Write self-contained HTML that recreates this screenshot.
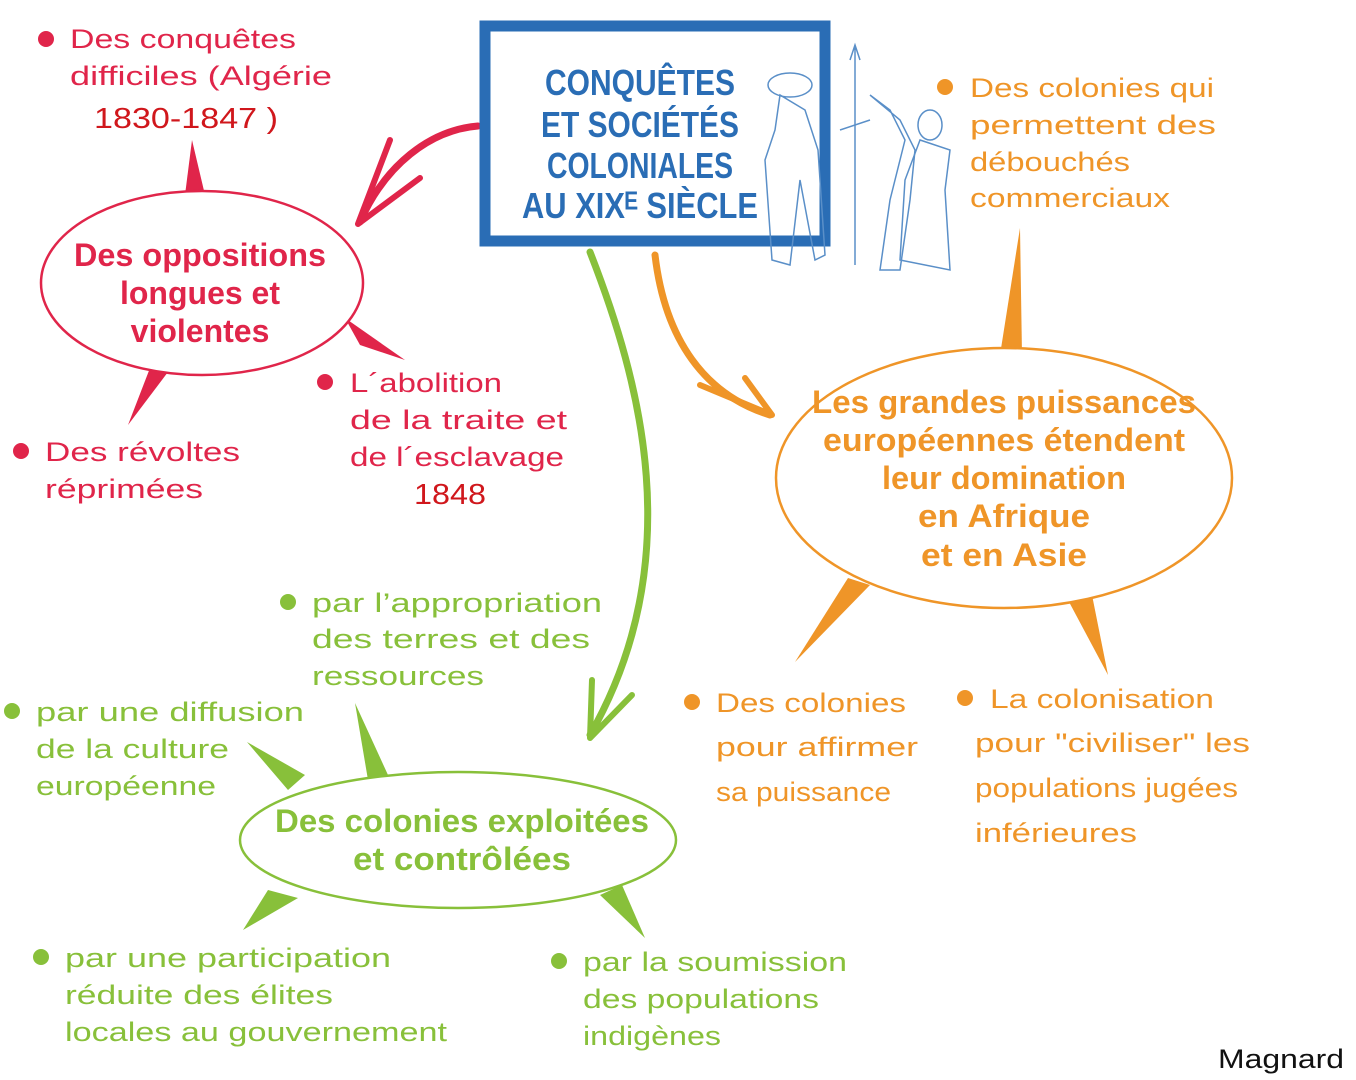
<!DOCTYPE html>
<html><head><meta charset="utf-8"><style>
html,body{margin:0;padding:0;background:#fff;}
svg{display:block;}
text{font-family:"Liberation Sans",sans-serif;}
.r{fill:#e0254a;font-size:27px;}
.o{fill:#ef9528;font-size:27px;}
.g{fill:#88c03a;font-size:27px;}
.rb{fill:#e0254a;font-size:32px;font-weight:bold;}
.ob{fill:#ef9528;font-size:32px;font-weight:bold;}
.gb{fill:#88c03a;font-size:32px;font-weight:bold;}
.t{fill:#2a6db5;font-size:36px;font-weight:bold;}
</style></head><body>
<svg width="1356" height="1080" viewBox="0 0 1356 1080">
<!-- connectors -->
<path d="M478,126 C430,130 385,165 360,222" fill="none" stroke="#e0254a" stroke-width="7" stroke-linecap="round"/>
<path d="M358,224 L390,140 M358,224 L420,178" fill="none" stroke="#e0254a" stroke-width="6" stroke-linecap="round"/>
<path d="M590,252 C640,380 690,560 590,735" fill="none" stroke="#88c03a" stroke-width="7" stroke-linecap="round"/>
<path d="M590,738 L592,680 M590,738 L632,695" fill="none" stroke="#88c03a" stroke-width="6" stroke-linecap="round"/>
<path d="M655,255 C665,340 705,395 770,415" fill="none" stroke="#ef9528" stroke-width="7" stroke-linecap="round"/>
<path d="M772,415 L700,385 M772,415 L745,378" fill="none" stroke="#ef9528" stroke-width="6" stroke-linecap="round"/>

<!-- title box -->
<rect x="485" y="26" width="340" height="215" fill="#fff" stroke="#2a6db5" stroke-width="11"/>
<text class="t" x="640" y="95" text-anchor="middle" textLength="190" lengthAdjust="spacingAndGlyphs">CONQUÊTES</text>
<text class="t" x="640" y="137" text-anchor="middle" textLength="198" lengthAdjust="spacingAndGlyphs">ET SOCIÉTÉS</text>
<text class="t" x="640" y="178" text-anchor="middle" textLength="186" lengthAdjust="spacingAndGlyphs">COLONIALES</text>
<text class="t" x="640" y="218" text-anchor="middle" textLength="236" lengthAdjust="spacingAndGlyphs">AU XIXᴱ SIÈCLE</text>
<!-- figures sketch -->
<g fill="none" stroke="#5a8fc8" stroke-width="1.5">
<ellipse cx="790" cy="85" rx="22" ry="12"/>
<path d="M780,95 L775,130 L765,160 L772,260 L790,265 L800,180 L815,260 L825,255 L818,150 L805,110 Z"/>
<path d="M855,45 L855,265 M850,60 L855,45 L860,60"/>
<path d="M870,95 L890,110 L905,140 L890,200 L880,270 L900,270 L910,200 L915,150 L900,120 Z"/>
<path d="M840,130 L870,120"/>
<ellipse cx="930" cy="125" rx="12" ry="15"/>
<path d="M920,140 L905,180 L900,260 L950,270 L945,190 L950,150 Z"/>
</g>

<!-- red node -->
<path d="M185,195 L192,140 L205,195 Z" fill="#e0254a"/>
<path d="M150,368 L128,425 L168,372 Z" fill="#e0254a"/>
<path d="M345,318 L405,360 L360,345 Z" fill="#e0254a"/>
<ellipse cx="202" cy="283" rx="161" ry="92" fill="#fff" stroke="#e0254a" stroke-width="2.5"/>
<text class="rb" x="200" y="266" text-anchor="middle" textLength="252" lengthAdjust="spacingAndGlyphs">Des oppositions</text>
<text class="rb" x="200" y="304" text-anchor="middle">longues et</text>
<text class="rb" x="200" y="342" text-anchor="middle">violentes</text>
<circle cx="46" cy="39" r="8" fill="#e0254a"/>
<text class="r" x="70" y="48" textLength="226" lengthAdjust="spacingAndGlyphs">Des conquêtes</text>
<text class="r" x="70" y="85" textLength="262" lengthAdjust="spacingAndGlyphs">difficiles (Algérie</text>
<text x="94" y="128" font-size="29" fill="#d0171c" textLength="184" lengthAdjust="spacingAndGlyphs">1830-1847 )</text>
<circle cx="21" cy="451" r="8" fill="#e0254a"/>
<text class="r" x="45" y="461" textLength="195" lengthAdjust="spacingAndGlyphs">Des révoltes</text>
<text class="r" x="45" y="498" textLength="158" lengthAdjust="spacingAndGlyphs">réprimées</text>
<circle cx="325" cy="382" r="8" fill="#e0254a"/>
<text class="r" x="350" y="392" textLength="152" lengthAdjust="spacingAndGlyphs">L´abolition</text>
<text class="r" x="350" y="429" textLength="217" lengthAdjust="spacingAndGlyphs">de la traite et</text>
<text class="r" x="350" y="466" textLength="214" lengthAdjust="spacingAndGlyphs">de l´esclavage</text>
<text x="414" y="504" font-size="29" fill="#d0171c" textLength="72" lengthAdjust="spacingAndGlyphs">1848</text>

<!-- orange node -->
<path d="M1000,355 L1020,228 L1022,355 Z" fill="#ef9528"/>
<path d="M848,578 L795,662 L870,585 Z" fill="#ef9528"/>
<path d="M1068,600 L1108,675 L1092,595 Z" fill="#ef9528"/>
<ellipse cx="1004" cy="478" rx="228" ry="130" fill="#fff" stroke="#ef9528" stroke-width="2.5"/>
<text class="ob" x="1004" y="413" text-anchor="middle" textLength="384" lengthAdjust="spacingAndGlyphs">Les grandes puissances</text>
<text class="ob" x="1004" y="451" text-anchor="middle" textLength="362" lengthAdjust="spacingAndGlyphs">européennes étendent</text>
<text class="ob" x="1004" y="489" text-anchor="middle" textLength="244" lengthAdjust="spacingAndGlyphs">leur domination</text>
<text class="ob" x="1004" y="527" text-anchor="middle" textLength="172" lengthAdjust="spacingAndGlyphs">en Afrique</text>
<text class="ob" x="1004" y="566" text-anchor="middle" textLength="166" lengthAdjust="spacingAndGlyphs">et en Asie</text>
<circle cx="945" cy="87" r="8" fill="#ef9528"/>
<text class="o" x="970" y="97" textLength="244" lengthAdjust="spacingAndGlyphs">Des colonies qui</text>
<text class="o" x="970" y="134" textLength="246" lengthAdjust="spacingAndGlyphs">permettent des</text>
<text class="o" x="970" y="171" textLength="160" lengthAdjust="spacingAndGlyphs">débouchés</text>
<text class="o" x="970" y="207" textLength="200" lengthAdjust="spacingAndGlyphs">commerciaux</text>
<circle cx="692" cy="702" r="8" fill="#ef9528"/>
<text class="o" x="716" y="712" textLength="190" lengthAdjust="spacingAndGlyphs">Des colonies</text>
<text class="o" x="716" y="756" textLength="202" lengthAdjust="spacingAndGlyphs">pour affirmer</text>
<text class="o" x="716" y="801" textLength="175" lengthAdjust="spacingAndGlyphs">sa puissance</text>
<circle cx="965" cy="698" r="8" fill="#ef9528"/>
<text class="o" x="990" y="708" textLength="224" lengthAdjust="spacingAndGlyphs">La colonisation</text>
<text class="o" x="975" y="752" textLength="275" lengthAdjust="spacingAndGlyphs">pour "civiliser" les</text>
<text class="o" x="975" y="797" textLength="263" lengthAdjust="spacingAndGlyphs">populations jugées</text>
<text class="o" x="975" y="842" textLength="162" lengthAdjust="spacingAndGlyphs">inférieures</text>

<!-- green node -->
<path d="M355,703 L368,780 L388,775 Z" fill="#88c03a"/>
<path d="M247,742 L288,790 L305,775 Z" fill="#88c03a"/>
<path d="M268,890 L243,930 L298,898 Z" fill="#88c03a"/>
<path d="M600,895 L645,938 L622,885 Z" fill="#88c03a"/>
<ellipse cx="458" cy="840" rx="218" ry="68" fill="#fff" stroke="#88c03a" stroke-width="2.5"/>
<text class="gb" x="462" y="832" text-anchor="middle" textLength="374" lengthAdjust="spacingAndGlyphs">Des colonies exploitées</text>
<text class="gb" x="462" y="870" text-anchor="middle" textLength="218" lengthAdjust="spacingAndGlyphs">et contrôlées</text>
<circle cx="288" cy="602" r="8" fill="#88c03a"/>
<text class="g" x="312" y="612" textLength="290" lengthAdjust="spacingAndGlyphs">par l’appropriation</text>
<text class="g" x="312" y="648" textLength="278" lengthAdjust="spacingAndGlyphs">des terres et des</text>
<text class="g" x="312" y="685" textLength="172" lengthAdjust="spacingAndGlyphs">ressources</text>
<circle cx="12" cy="711" r="8" fill="#88c03a"/>
<text class="g" x="36" y="721" textLength="268" lengthAdjust="spacingAndGlyphs">par une diffusion</text>
<text class="g" x="36" y="758" textLength="193" lengthAdjust="spacingAndGlyphs">de la culture</text>
<text class="g" x="36" y="795" textLength="180" lengthAdjust="spacingAndGlyphs">européenne</text>
<circle cx="41" cy="957" r="8" fill="#88c03a"/>
<text class="g" x="65" y="967" textLength="326" lengthAdjust="spacingAndGlyphs">par une participation</text>
<text class="g" x="65" y="1004" textLength="268" lengthAdjust="spacingAndGlyphs">réduite des élites</text>
<text class="g" x="65" y="1041" textLength="382" lengthAdjust="spacingAndGlyphs">locales au gouvernement</text>
<circle cx="559" cy="961" r="8" fill="#88c03a"/>
<text class="g" x="583" y="971" textLength="264" lengthAdjust="spacingAndGlyphs">par la soumission</text>
<text class="g" x="583" y="1008" textLength="236" lengthAdjust="spacingAndGlyphs">des populations</text>
<text class="g" x="583" y="1045" textLength="138" lengthAdjust="spacingAndGlyphs">indigènes</text>

<text x="1218" y="1068" font-size="27" fill="#111" textLength="126" lengthAdjust="spacingAndGlyphs">Magnard</text>
</svg>
</body></html>
